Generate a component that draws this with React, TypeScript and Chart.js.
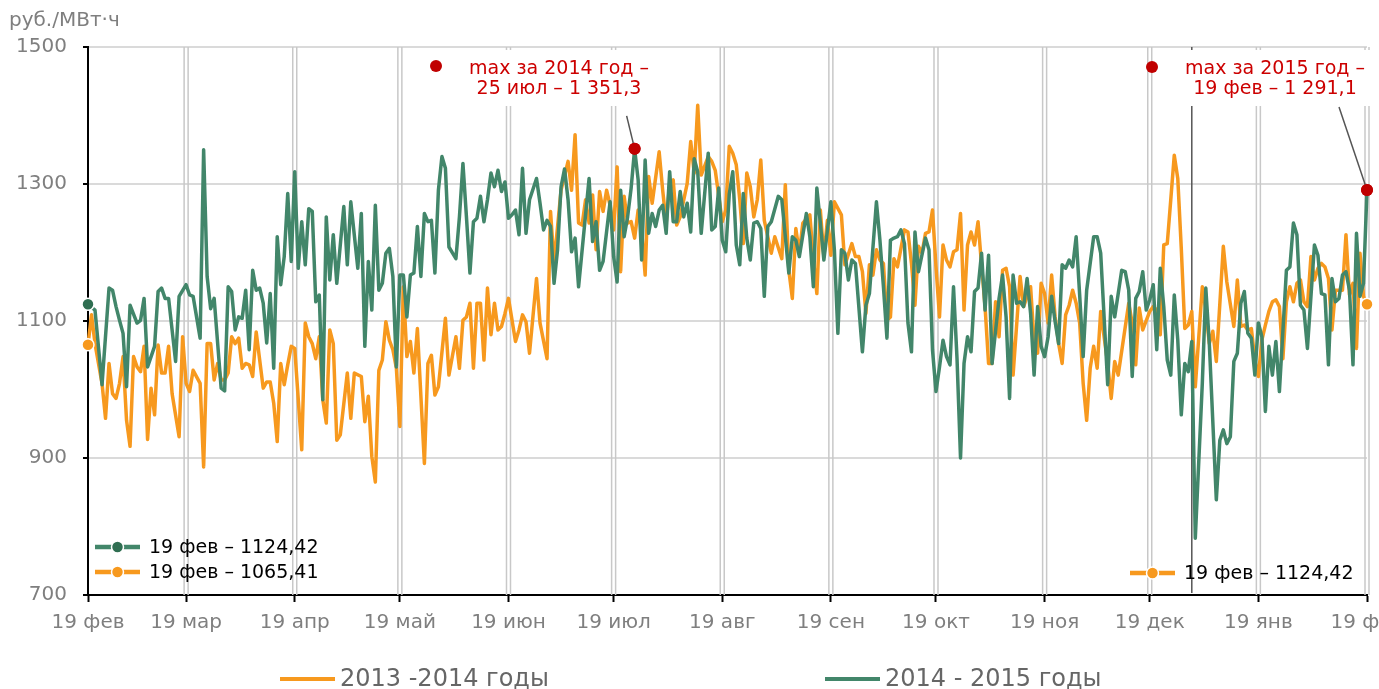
import React, { useEffect, useRef } from 'react';
import { Chart, registerables } from 'chart.js';

Chart.register(...registerables);

const FONT = "'DejaVu Sans', Verdana, sans-serif";
const ORANGE = '#F7991E';
const GREEN = '#42866A';
const GREEN_DARK = '#2F6E51';
const RED = '#C00000';
const TICK_GREY = '#7F7F7F';

// x axis: day number counted from 19 Feb
const monthTickDays = [0, 28, 59, 89, 120, 150, 181, 212, 242, 273, 303, 334, 365];
const monthTickLabels = ['19 фев', '19 мар', '19 апр', '19 май', '19 июн', '19 июл', '19 авг', '19 сен', '19 окт', '19 ноя', '19 дек', '19 янв', '19 фев'];
const yTickValues = [700, 900, 1100, 1300, 1500];
const yearBoundaryDay = 315; // 31 дек
const yUnit = 'руб./МВт·ч';

const series1Name = '2013 -2014 годы';
const series2Name = '2014 - 2015 годы';

// [day, руб./МВт·ч]
const series1: [number, number][] = [
  [0, 1065.41], [1, 1109], [2, 1067], [4, 1009], [5, 958], [6, 1038], [7, 994], [8, 987], [9, 1009], [10, 1048],
  [11, 955], [12, 917], [13, 1048], [14, 1033], [15, 1026], [16, 1063], [17, 927], [18, 1002], [19, 963], [20, 1065],
  [21, 1024], [22, 1024], [23, 1063], [24, 994], [26, 931], [27, 1077], [28, 1009], [29, 997], [30, 1028], [32, 1009],
  [33, 887], [34, 1067], [35, 1067], [36, 1014], [37, 1038], [38, 1014], [39, 1014], [40, 1024], [41, 1077], [42, 1067],
  [43, 1075], [44, 1031], [45, 1038], [46, 1036], [47, 1019], [48, 1084], [50, 1002], [51, 1011], [52, 1011], [53, 980],
  [54, 924], [55, 1038], [56, 1007], [57, 1036], [58, 1063], [59, 1060], [61, 912], [62, 1097], [63, 1077], [64, 1067],
  [65, 1045], [66, 1077], [67, 985], [68, 951], [69, 1087], [70, 1067], [71, 926], [72, 934], [74, 1024], [75, 958],
  [76, 1024], [78, 1019], [79, 953], [80, 990], [81, 902], [82, 865], [83, 1028], [84, 1043], [85, 1099], [86, 1072],
  [87, 1058], [88, 1031], [89, 946], [90, 1150], [91, 1048], [92, 1070], [93, 1024], [94, 1089], [96, 892], [97, 1038],
  [98, 1050], [99, 992], [100, 1004], [102, 1104], [103, 1021], [105, 1077], [106, 1031], [107, 1101], [108, 1106], [109, 1126],
  [110, 1031], [111, 1126], [112, 1126], [113, 1043], [114, 1148], [115, 1080], [116, 1126], [117, 1087], [118, 1092], [119, 1111],
  [120, 1133], [122, 1070], [123, 1087], [124, 1109], [125, 1099], [126, 1053], [128, 1162], [129, 1097], [131, 1045], [132, 1260],
  [133, 1184], [135, 1291], [137, 1333], [138, 1291], [139, 1372], [140, 1243], [141, 1240], [142, 1277], [143, 1243], [144, 1284],
  [145, 1204], [146, 1289], [147, 1260], [148, 1291], [149, 1269], [150, 1233], [151, 1325], [152, 1172], [153, 1282], [154, 1243],
  [155, 1245], [156, 1221], [157, 1262], [158, 1233], [159, 1167], [160, 1311], [161, 1272], [163, 1347], [164, 1291], [165, 1243],
  [166, 1301], [167, 1306], [168, 1240], [169, 1252], [171, 1301], [172, 1362], [173, 1316], [174, 1415], [175, 1313], [177, 1340],
  [178, 1333], [179, 1320], [181, 1245], [182, 1262], [183, 1355], [184, 1345], [185, 1328], [186, 1277], [187, 1213], [188, 1316],
  [189, 1296], [190, 1252], [191, 1277], [192, 1335], [193, 1247], [195, 1199], [196, 1223], [198, 1191], [199, 1299], [200, 1174],
  [201, 1133], [202, 1235], [203, 1199], [204, 1243], [206, 1255], [207, 1191], [208, 1140], [209, 1262], [210, 1194], [211, 1247],
  [212, 1196], [213, 1274], [215, 1255], [216, 1182], [218, 1213], [219, 1194], [220, 1194], [221, 1172], [222, 1111], [223, 1182],
  [224, 1167], [225, 1204], [226, 1189], [227, 1184], [228, 1101], [229, 1106], [230, 1191], [231, 1179], [232, 1206], [233, 1233],
  [234, 1230], [235, 1184], [236, 1123], [237, 1209], [238, 1199], [239, 1228], [240, 1230], [241, 1262], [242, 1179], [243, 1106],
  [244, 1211], [245, 1189], [246, 1179], [247, 1201], [248, 1204], [249, 1257], [250, 1116], [251, 1211], [252, 1230], [253, 1211],
  [254, 1245], [255, 1182], [256, 1121], [257, 1038], [258, 1038], [259, 1128], [260, 1077], [261, 1174], [262, 1177], [263, 1150],
  [264, 1021], [266, 1165], [267, 1121], [268, 1136], [269, 1150], [270, 1070], [271, 1053], [272, 1155], [273, 1140], [274, 1097],
  [275, 1167], [276, 1106], [277, 1067], [278, 1038], [279, 1109], [280, 1123], [281, 1145], [282, 1126], [283, 1097], [284, 1009],
  [285, 955], [286, 1031], [287, 1063], [288, 1031], [289, 1114], [291, 1038], [292, 987], [293, 1041], [294, 1021], [297, 1126],
  [298, 1097], [299, 1036], [300, 1119], [301, 1087], [303, 1114], [304, 1121], [305, 1116], [306, 1080], [307, 1211], [308, 1213],
  [309, 1277], [310, 1342], [311, 1308], [312, 1206], [313, 1089], [314, 1094], [315, 1114], [316, 1004], [318, 1150], [319, 1116],
  [320, 1067], [321, 1085], [322, 1041], [324, 1209], [325, 1157], [327, 1092], [328, 1160], [329, 1092], [330, 1094], [331, 1087],
  [332, 1089], [333, 1043], [334, 1019], [335, 1072], [336, 1094], [337, 1114], [338, 1128], [339, 1131], [340, 1121], [341, 1045],
  [342, 1128], [343, 1150], [344, 1128], [345, 1155], [346, 1160], [347, 1128], [348, 1121], [349, 1194], [350, 1160], [351, 1177],
  [352, 1184], [353, 1179], [354, 1162], [355, 1087], [356, 1145], [358, 1145], [359, 1226], [360, 1138], [361, 1155], [362, 1060],
  [363, 1199], [364, 1136], [365, 1124.42],
];

const series2: [number, number][] = [
  [0, 1124.42], [2, 1116], [4, 1007], [6, 1148], [7, 1145], [8, 1121], [9, 1101], [10, 1082], [11, 1004], [12, 1123],
  [14, 1097], [15, 1101], [16, 1133], [17, 1033], [19, 1063], [20, 1143], [21, 1148], [22, 1133], [23, 1133], [25, 1041],
  [26, 1136], [28, 1153], [29, 1138], [30, 1136], [32, 1075], [33, 1350], [34, 1165], [35, 1118], [36, 1133], [38, 1002],
  [39, 998], [40, 1150], [41, 1143], [42, 1087], [43, 1106], [44, 1104], [45, 1145], [46, 1058], [47, 1174], [48, 1145],
  [49, 1148], [50, 1126], [51, 1068], [52, 1140], [53, 1031], [54, 1223], [55, 1153], [56, 1194], [57, 1286], [58, 1187],
  [59, 1318], [60, 1177], [61, 1245], [62, 1182], [63, 1264], [64, 1260], [65, 1128], [66, 1138], [67, 985], [68, 1252],
  [69, 1160], [70, 1226], [71, 1155], [73, 1267], [74, 1182], [75, 1274], [77, 1177], [78, 1257], [79, 1063], [80, 1187],
  [81, 1116], [82, 1269], [83, 1145], [84, 1155], [85, 1199], [86, 1206], [87, 1165], [88, 1033], [89, 1167], [90, 1167],
  [91, 1106], [92, 1167], [93, 1170], [94, 1238], [95, 1165], [96, 1257], [97, 1245], [98, 1247], [99, 1170], [100, 1291],
  [101, 1340], [102, 1323], [103, 1208], [105, 1191], [106, 1252], [107, 1330], [108, 1252], [109, 1170], [110, 1245], [111, 1250],
  [112, 1282], [113, 1245], [114, 1277], [115, 1316], [116, 1296], [117, 1320], [118, 1289], [119, 1303], [120, 1250], [121, 1255],
  [122, 1262], [123, 1226], [124, 1323], [125, 1228], [126, 1277], [128, 1308], [129, 1272], [130, 1233], [131, 1247], [132, 1238],
  [133, 1155], [134, 1204], [135, 1296], [136, 1322], [137, 1277], [138, 1201], [139, 1221], [140, 1150], [143, 1308], [144, 1216],
  [145, 1245], [146, 1174], [147, 1187], [149, 1274], [150, 1194], [151, 1157], [152, 1291], [153, 1223], [154, 1252], [155, 1294],
  [156, 1351.3], [157, 1306], [158, 1189], [159, 1335], [160, 1228], [161, 1257], [162, 1238], [163, 1262], [164, 1269], [165, 1228],
  [166, 1318], [167, 1245], [168, 1245], [169, 1289], [170, 1252], [171, 1272], [172, 1230], [173, 1337], [174, 1318], [175, 1228],
  [177, 1345], [178, 1233], [179, 1238], [180, 1294], [181, 1218], [182, 1201], [183, 1285], [184, 1318], [185, 1211], [186, 1182],
  [187, 1286], [188, 1221], [189, 1189], [190, 1243], [191, 1245], [192, 1235], [193, 1136], [194, 1238], [195, 1245], [197, 1282],
  [198, 1277], [200, 1170], [201, 1223], [202, 1218], [203, 1194], [205, 1257], [206, 1223], [207, 1150], [208, 1294], [209, 1243],
  [210, 1189], [212, 1274], [213, 1204], [214, 1082], [215, 1204], [216, 1199], [217, 1160], [218, 1189], [219, 1184], [221, 1055],
  [222, 1123], [223, 1140], [225, 1274], [226, 1218], [227, 1150], [228, 1075], [229, 1218], [230, 1221], [231, 1223], [232, 1233],
  [233, 1213], [234, 1097], [235, 1055], [236, 1230], [237, 1172], [239, 1221], [240, 1204], [241, 1058], [242, 997], [243, 1033],
  [244, 1072], [245, 1048], [246, 1036], [247, 1150], [248, 1045], [249, 900], [250, 1038], [251, 1077], [252, 1055], [253, 1143],
  [254, 1148], [255, 1199], [256, 1116], [257, 1196], [258, 1038], [260, 1133], [261, 1167], [262, 1106], [263, 987], [264, 1167],
  [265, 1126], [266, 1128], [267, 1121], [268, 1162], [269, 1111], [270, 1021], [271, 1121], [272, 1063], [273, 1048], [274, 1077],
  [275, 1136], [276, 1099], [277, 1067], [278, 1182], [279, 1177], [280, 1189], [281, 1179], [282, 1223], [283, 1138], [284, 1048],
  [285, 1145], [287, 1223], [288, 1223], [289, 1199], [291, 1007], [292, 1136], [293, 1106], [295, 1174], [296, 1172], [297, 1145],
  [298, 1019], [299, 1133], [300, 1143], [301, 1172], [302, 1116], [303, 1131], [304, 1153], [305, 1058], [306, 1177], [307, 1121],
  [308, 1043], [309, 1021], [310, 1138], [311, 1072], [312, 963], [313, 1038], [314, 1026], [315, 1070], [316, 783], [318, 1009],
  [319, 1148], [320, 1067], [322, 839], [323, 926], [324, 941], [325, 921], [326, 931], [327, 1041], [328, 1053], [329, 1126],
  [330, 1143], [331, 1082], [332, 1075], [333, 1021], [334, 1097], [335, 1077], [336, 968], [337, 1063], [338, 1021], [339, 1070],
  [340, 997], [342, 1174], [343, 1179], [344, 1243], [345, 1226], [346, 1123], [347, 1116], [348, 1060], [350, 1211], [351, 1196],
  [352, 1140], [353, 1138], [354, 1036], [355, 1162], [356, 1128], [357, 1133], [358, 1167], [359, 1172], [360, 1145], [361, 1036],
  [362, 1228], [363, 1136], [364, 1155], [365, 1291.1],
];

const max2014 = { day: 156, value: 1351.3, lines: ['max за 2014 год –', '25 июл – 1 351,3'] };
const max2015 = { day: 365, value: 1291.1, lines: ['max за 2015 год –', '19 фев – 1 291,1'] };
const legendLeftTexts = ['19 фев – 1124,42', '19 фев – 1065,41'];
const legendRightText = '19 фев – 1124,42';

const CANVAS_W = 1379;
const CANVAS_H = 689;

function drawMarker(ctx: CanvasRenderingContext2D, x1: number, x2: number, y: number, lineColor: string, dotColor: string) {
  ctx.save();
  ctx.strokeStyle = lineColor;
  ctx.lineWidth = 4.5;
  ctx.lineCap = 'butt';
  ctx.beginPath();
  ctx.moveTo(x1, y);
  ctx.lineTo(x2, y);
  ctx.stroke();
  ctx.beginPath();
  ctx.arc((x1 + x2) / 2, y, 6, 0, Math.PI * 2);
  ctx.fillStyle = dotColor;
  ctx.fill();
  ctx.lineWidth = 1.5;
  ctx.strokeStyle = '#fff';
  ctx.stroke();
  ctx.restore();
}

const decorPlugin = {
  id: 'decor',
  beforeDatasetsDraw(chart: any) {
    const { ctx, chartArea, scales } = chart;
    const x = scales.x;
    ctx.save();
    ctx.strokeStyle = '#C8C8C8';
    ctx.lineWidth = 1.5;
    monthTickDays.slice(1).forEach((d) => {
      const px = x.getPixelForValue(d);
      [px - 2, px + 2].forEach((lx) => {
        ctx.beginPath();
        ctx.moveTo(lx, chartArea.top);
        ctx.lineTo(lx, chartArea.bottom);
        ctx.stroke();
      });
    });
    const bx = x.getPixelForValue(yearBoundaryDay);
    ctx.strokeStyle = '#555';
    ctx.lineWidth = 1.5;
    ctx.beginPath();
    ctx.moveTo(bx, chartArea.top);
    ctx.lineTo(bx, chartArea.bottom - 2);
    ctx.stroke();
    ctx.restore();
  },
  afterDatasetsDraw(chart: any) {
    const { ctx, scales } = chart;
    const x = scales.x;
    const y = scales.y;
    ctx.save();
    ctx.font = `19px ${FONT}`;
    ctx.textBaseline = 'middle';

    // annotation boxes
    const annots = [
      { a: max2014, cx: 559, boxX: 465, boxW: 190, dot: [436, 66], off: [-8, -33] },
      { a: max2015, cx: 1275, boxX: 1180, boxW: 191, dot: [1152, 67], off: [-28, -83] },
    ];
    annots.forEach(({ a, cx, boxX, boxW, dot, off }) => {
      const px = x.getPixelForValue(a.day);
      const py = y.getPixelForValue(a.value);
      ctx.strokeStyle = '#555';
      ctx.lineWidth = 1.5;
      ctx.beginPath();
      ctx.moveTo(px + off[0], py + off[1]);
      ctx.lineTo(px, py);
      ctx.stroke();
      ctx.fillStyle = '#fff';
      ctx.fillRect(boxX, 50, boxW, 56);
      ctx.fillStyle = '#CC0000';
      ctx.textAlign = 'center';
      ctx.fillText(a.lines[0], cx, 69);
      ctx.fillText(a.lines[1], cx, 89);
      ctx.beginPath();
      ctx.arc(dot[0], dot[1], 6, 0, Math.PI * 2);
      ctx.fillStyle = RED;
      ctx.fill();
      ctx.beginPath();
      ctx.arc(px, py, 6, 0, Math.PI * 2);
      ctx.fill();
    });

    // inside legends
    ctx.textAlign = 'left';
    drawMarker(ctx, 95, 140, 547, GREEN, GREEN_DARK);
    drawMarker(ctx, 95, 140, 572, ORANGE, ORANGE);
    drawMarker(ctx, 1130, 1175, 573, ORANGE, ORANGE);
    ctx.fillStyle = '#000';
    ctx.fillText(legendLeftTexts[0], 149, 548);
    ctx.fillText(legendLeftTexts[1], 149, 573);
    ctx.fillText(legendRightText, 1184, 574);

    // unit
    ctx.fillStyle = TICK_GREY;
    ctx.font = `20px ${FONT}`;
    ctx.fillText(yUnit, 9, 21);

    // bottom legend
    ctx.lineWidth = 4;
    ctx.strokeStyle = ORANGE;
    ctx.beginPath();
    ctx.moveTo(280, 679);
    ctx.lineTo(335, 679);
    ctx.stroke();
    ctx.strokeStyle = GREEN;
    ctx.beginPath();
    ctx.moveTo(825, 679);
    ctx.lineTo(880, 679);
    ctx.stroke();
    ctx.fillStyle = '#666';
    ctx.font = `24px ${FONT}`;
    ctx.fillText(series1Name, 340, 680);
    ctx.fillText(series2Name, 885, 680);
    ctx.restore();
  },
};

export default function App() {
  const canvasRef = useRef<HTMLCanvasElement | null>(null);

  useEffect(() => {
    if (!canvasRef.current) return;
    const maxIdx = series2.findIndex((p) => p[0] === max2014.day);
    const last2 = series2.length - 1;
    const last1 = series1.length - 1;

    const chart = new Chart(canvasRef.current, {
      type: 'line',
      data: {
        datasets: [
          {
            label: series2Name,
            data: series2.map(([d, v]) => ({ x: d, y: v })),
            borderColor: GREEN,
            borderWidth: 3.5,
            tension: 0,
            order: 1,
            clip: false as any,
            borderJoinStyle: 'round',
            pointRadius: (c: any) => (c.dataIndex === 0 || c.dataIndex === maxIdx || c.dataIndex === last2 ? 6 : 0),
            pointBackgroundColor: (c: any) => (c.dataIndex === 0 ? GREEN_DARK : RED),
            pointBorderColor: (c: any) => (c.dataIndex === 0 ? '#fff' : RED),
            pointBorderWidth: (c: any) => (c.dataIndex === 0 ? 1.5 : 0),
          },
          {
            label: series1Name,
            data: series1.map(([d, v]) => ({ x: d, y: v })),
            borderColor: ORANGE,
            borderWidth: 3.5,
            tension: 0,
            order: 2,
            clip: false as any,
            borderJoinStyle: 'round',
            pointRadius: (c: any) => (c.dataIndex === 0 || c.dataIndex === last1 ? 6 : 0),
            pointBackgroundColor: ORANGE,
            pointBorderColor: '#fff',
            pointBorderWidth: 1.5,
          },
        ],
      },
      options: {
        animation: false,
        responsive: false,
        devicePixelRatio: 1,
        events: [],
        layout: { padding: { top: 47, right: 12, left: 0, bottom: 0 } },
        plugins: { legend: { display: false }, tooltip: { enabled: false } },
        scales: {
          x: {
            type: 'linear',
            min: 0,
            max: 365,
            afterBuildTicks: (scale: any) => {
              scale.ticks = monthTickDays.map((v) => ({ value: v }));
            },
            afterFit: (scale: any) => {
              scale.height = CANVAS_H - 595;
              scale.paddingLeft = 0;
              scale.paddingRight = 0;
            },
            ticks: {
              autoSkip: false,
              maxRotation: 0,
              padding: 9,
              color: TICK_GREY,
              font: { family: FONT, size: 20 },
              callback: (_v: any, i: number) => monthTickLabels[i],
            },
            grid: { drawOnChartArea: false, drawTicks: true, tickLength: 7, tickColor: '#000', tickWidth: 2 },
            border: { display: true, color: '#000', width: 2 },
          },
          y: {
            type: 'linear',
            min: 700,
            max: 1500,
            afterBuildTicks: (scale: any) => {
              scale.ticks = yTickValues.map((v) => ({ value: v }));
            },
            afterFit: (scale: any) => {
              scale.width = 88;
            },
            ticks: {
              padding: 16,
              color: TICK_GREY,
              font: { family: FONT, size: 20 },
              callback: (v: any) => String(v),
            },
            grid: { color: '#DADADA', lineWidth: 2, drawTicks: true, tickLength: 5, tickColor: '#000', tickWidth: 2 },
            border: { display: true, color: '#000', width: 2 },
          },
        },
      } as any,
      plugins: [decorPlugin],
    });
    return () => chart.destroy();
  }, []);

  return (
    <div style={{ position: 'fixed', left: 0, top: 0, width: CANVAS_W, height: CANVAS_H, overflow: 'hidden', background: '#fff' }}>
      <canvas ref={canvasRef} width={CANVAS_W} height={CANVAS_H} style={{ display: 'block', width: CANVAS_W, height: CANVAS_H }} />
    </div>
  );
}
